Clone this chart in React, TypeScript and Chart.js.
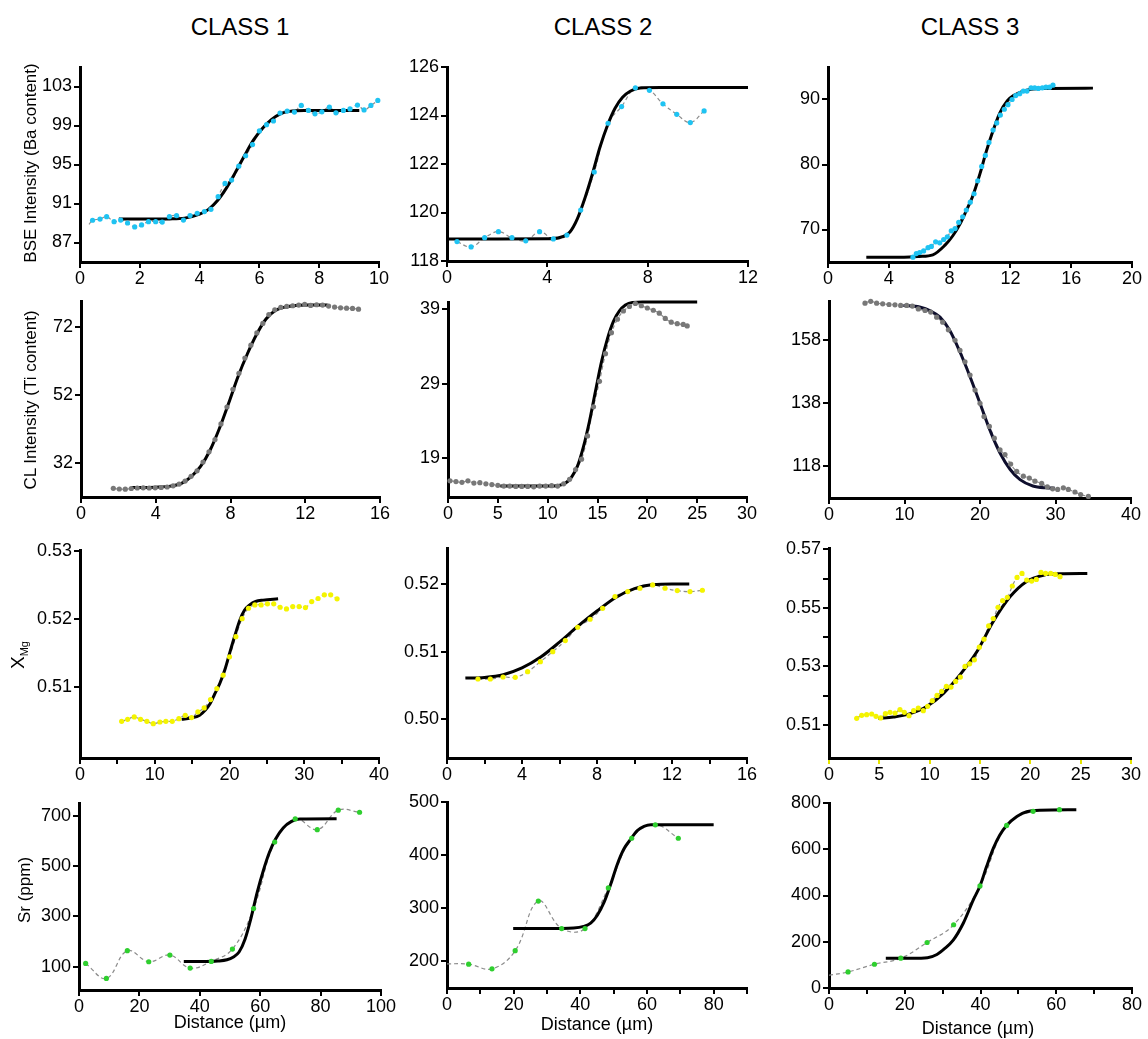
import React, { useEffect, useRef } from 'react';
import { Chart, registerables } from 'chart.js';
Chart.register(...registerables);

const FONT = '"Liberation Sans", Arial, Helvetica, sans-serif';

// ---------------- Class titles & axis titles ----------------
const classTitles = ['CLASS 1', 'CLASS 2', 'CLASS 3'];
const rowTitles = ['BSE Intensity (Ba content)', 'CL Intensity (Ti content)', 'X', 'Sr (ppm)'];
const xTitle = 'Distance (µm)';

// ---------------- Row 1: BSE intensity ----------------
const c1BseX = [0.42,0.67,0.89,1.14,1.36,1.59,1.83,2.06,2.29,2.53,2.75,2.99,3.23,3.46,3.68,3.92,4.16,4.38,4.62,4.85,5.07,5.31,5.54,5.77,6.0,6.24,6.47,6.69,6.93,7.17,7.40,7.64,7.86,8.09,8.34,8.56,8.81,9.03,9.28,9.5,9.73,9.96];
const c1BseY = [89.28,89.4,89.65,89.14,89.3,89.0,88.6,88.8,89.14,89.14,89.1,89.65,89.76,89.3,89.76,90.0,90.17,90.4,91.7,93.06,93.4,94.83,95.9,97.04,98.44,99.08,99.46,100.28,100.48,100.38,101.06,100.55,100.2,100.4,100.9,100.3,100.55,100.7,101.1,100.6,101.06,101.57];
const c1BseLead = [0.3, 88.85];
const c1BseFitX = [1.3,2,3,3.5,4.0,4.3,4.6,4.9,5.2,5.5,5.8,6.1,6.4,6.7,7.0,7.5,8.5,9.34];
const c1BseFitY = [89.4,89.4,89.42,89.5,89.9,90.4,91.3,92.6,94.2,95.9,97.5,98.7,99.6,100.2,100.45,100.55,100.55,100.55];
const c1BseXTicks = [0,2,4,6,8,10];
const c1BseXLabels = ['0','2','4','6','8','10'];
const c1BseYTicks = [87,91,95,99,103];
const c1BseYLabels = ['87','91','95','99','103'];

const c2BseX = [0.40,0.96,1.50,2.05,2.59,3.14,3.69,4.24,4.78,5.33,5.87,6.42,6.96,7.51,8.07,8.61,9.16,9.70,10.25];
const c2BseY = [118.8,118.58,118.96,119.21,118.96,118.83,119.21,118.91,119.07,120.1,121.67,123.68,124.37,125.14,125.04,124.48,124.05,123.71,124.19];
const c2BseFitX = [0,2,4,4.5,4.9,5.2,5.5,5.8,6.1,6.4,6.7,7.0,7.3,7.7,8.5,12];
const c2BseFitY = [118.91,118.91,118.92,118.97,119.2,119.75,120.6,121.6,122.7,123.6,124.3,124.75,125.0,125.13,125.15,125.15];
const c2BseXTicks = [0,4,8,12];
const c2BseXLabels = ['0','4','8','12'];
const c2BseYTicks = [118,120,122,124,126];
const c2BseYLabels = ['118','120','122','124','126'];

const c3BseX = [5.59,5.81,6.03,6.29,6.58,6.80,7.08,7.35,7.61,7.85,8.11,8.36,8.60,8.86,9.10,9.36,9.61,9.85,10.11,10.35,10.59,10.86,11.10,11.34,11.60,11.84,12.11,12.35,12.61,12.85,13.09,13.36,13.60,13.84,14.10,14.34,14.58,14.80];
const c3BseY = [65.74,66.3,66.46,66.7,67.2,67.4,68.1,67.95,68.46,68.87,69.8,70.15,71.1,71.95,73.0,74.2,75.5,77.5,79.7,81.4,83.4,85.3,86.4,87.6,88.5,89.2,90.0,90.6,90.9,91.3,91.3,91.8,91.8,91.7,91.8,91.9,91.9,92.2];
const c3BseFitX = [2.52,5,6,6.9,7.7,8.2,8.7,9.1,9.5,10.0,10.4,10.8,11.3,11.8,12.2,13.0,14.0,17.43];
const c3BseFitY = [65.75,65.75,65.85,66.1,67.6,69.0,70.9,72.9,75.0,78.6,81.9,84.8,87.9,89.8,90.6,91.4,91.7,91.75];
const c3BseXTicks = [0,4,8,12,16,20];
const c3BseXLabels = ['0','4','8','12','16','20'];
const c3BseYTicks = [70,80,90];
const c3BseYLabels = ['70','80','90'];

// ---------------- Row 2: CL intensity ----------------
const c1ClX = [1.73,2.05,2.37,2.69,3.01,3.33,3.65,3.97,4.29,4.61,4.93,5.25,5.57,5.89,6.21,6.53,6.85,7.17,7.49,7.81,8.13,8.45,8.77,9.09,9.41,9.73,10.05,10.37,10.69,11.01,11.33,11.65,11.97,12.29,12.61,12.93,13.25,13.57,13.89,14.21,14.53,14.85];
const c1ClY = [24.45,24.25,24.2,24.4,24.55,24.6,24.55,24.6,24.7,24.85,25.2,25.7,26.6,28.0,29.6,32.2,35.2,38.8,43.4,48.4,53.6,58.3,62.8,66.6,70.2,73.0,75.6,77.0,77.7,78.0,78.2,78.4,78.6,78.3,78.5,78.4,78.1,77.8,77.6,77.5,77.4,77.2];
const c1ClFitX = [2.7,4.0,4.8,5.4,5.9,6.4,6.9,7.4,7.9,8.4,8.9,9.4,9.9,10.4,10.9,11.5,12.2,13.2];
const c1ClFitY = [24.7,24.8,25.1,26.0,27.9,30.9,35.6,42.0,49.5,57.3,64.0,69.8,74.3,76.8,77.8,78.3,78.4,78.4];
const c1ClXTicks = [0,4,8,12,16];
const c1ClXLabels = ['0','4','8','12','16'];
const c1ClYTicks = [32,52,72];
const c1ClYLabels = ['32','52','72'];

const c2ClX = [0.2,0.8,1.4,2.0,2.6,3.2,3.8,4.4,5.0,5.6,6.2,6.8,7.4,8.0,8.6,9.2,9.8,10.4,11.0,11.6,12.2,12.8,13.4,14.0,14.6,15.2,15.8,16.4,17.0,17.6,18.2,18.8,19.4,20.0,20.6,21.2,21.8,22.4,23.0,23.6,24.0];
const c2ClY = [16.0,15.9,15.8,16.0,15.7,15.75,15.6,15.5,15.4,15.3,15.3,15.25,15.25,15.25,15.2,15.3,15.3,15.35,15.3,15.6,16.2,17.5,18.9,22.0,25.9,29.3,33.0,35.8,37.6,38.7,39.3,39.7,39.4,39.1,38.8,38.4,37.7,37.2,37.0,36.9,36.7];
const c2ClFitX = [5.25,8,10,11,11.8,12.4,13.0,13.6,14.2,14.8,15.4,16.0,16.6,17.2,17.8,18.5,19.5,25];
const c2ClFitY = [15.3,15.3,15.3,15.35,15.7,16.5,18.0,20.6,24.0,28.0,31.9,35.0,37.3,38.7,39.5,39.85,39.9,39.9];
const c2ClXTicks = [0,5,10,15,20,25,30];
const c2ClXLabels = ['0','5','10','15','20','25','30'];
const c2ClYTicks = [19,29,39];
const c2ClYLabels = ['19','29','39'];

const c3ClX = [4.77,5.52,6.31,7.11,7.95,8.74,9.49,10.29,11.04,11.83,12.72,13.47,14.26,15.06,15.81,16.69,17.35,18.01,18.68,19.34,20.0,20.53,21.24,21.9,22.65,23.31,24.06,24.86,25.74,26.53,27.28,28.17,28.92,29.62,30.29,31.04,31.7,32.58,33.33,34.35];
const c3ClY = [169.5,170.1,169.5,169.3,169.1,169.0,168.8,168.8,168.6,167.7,167.2,166.7,165.1,163.5,161.1,157.8,154.6,151.0,146.8,142.1,137.9,133.7,130.6,126.9,123.2,121.7,118.7,116.4,114.9,114.3,113.3,112.6,111.5,110.9,110.7,111.2,110.7,109.9,109.1,108.5];
const c3ClFitX = [9.85,12,13.5,14.7,16.0,17.35,18.68,20.0,21.3,22.65,24.0,25.3,27.0,28.8,29.93];
const c3ClFitY = [168.8,168.3,167.0,165.1,160.9,154.1,146.3,137.9,129.5,122.2,117.0,113.8,111.8,111.2,111.1];
const c3ClXTicks = [0,10,20,30,40];
const c3ClXLabels = ['0','10','20','30','40'];
const c3ClYTicks = [118,138,158];
const c3ClYLabels = ['118','138','158'];

// ---------------- Row 3: X_Mg ----------------
const c1XmgX = [5.57,6.37,7.26,8.1,8.95,9.8,10.69,11.49,12.34,13.23,14.08,14.92,15.77,16.61,17.46,18.31,19.15,20.0,20.85,21.69,22.54,23.39,24.23,25.08,25.92,26.77,27.62,28.46,29.31,30.16,31.0,31.85,32.69,33.54,34.39];
const c1XmgY = [0.50491,0.50521,0.50556,0.50521,0.50491,0.50457,0.50481,0.50491,0.50491,0.50531,0.5058,0.50546,0.5063,0.50689,0.50812,0.50975,0.51173,0.51444,0.51741,0.52007,0.5216,0.5221,0.5221,0.52225,0.52225,0.52175,0.52151,0.52185,0.52185,0.5217,0.52259,0.52304,0.52358,0.52358,0.52299];
const c1XmgFitX = [13.59,14.8,16.0,17.4,18.0,18.7,19.4,20.0,20.7,21.4,22.0,22.7,23.5,24.5,26.5];
const c1XmgFitY = [0.5052,0.5054,0.5058,0.5075,0.5089,0.5105,0.5126,0.5149,0.5175,0.5199,0.5213,0.5221,0.5226,0.5228,0.523];
const c1XmgXTicks = [0,5,10,15,20,25,30,35,40];
const c1XmgXLabels = ['0','','10','','20','','30','','40'];
const c1XmgYTicks = [0.51,0.52,0.53];
const c1XmgYLabels = ['0.51','0.52','0.53'];

const c2XmgX = [1.65,2.31,2.99,3.64,4.30,4.98,5.64,6.31,6.97,7.63,8.30,8.96,9.64,10.29,10.97,11.63,12.28,12.96,13.62];
const c2XmgY = [0.50596,0.50596,0.50626,0.50621,0.50704,0.50852,0.51,0.51163,0.5136,0.51478,0.5164,0.51813,0.51887,0.51936,0.51985,0.51936,0.51901,0.51887,0.51906];
const c2XmgFitX = [0.98,2.0,3.0,4.0,5.0,6.0,7.0,8.0,9.0,10.0,11.0,12.0,12.92];
const c2XmgFitY = [0.5061,0.5062,0.5066,0.5076,0.5092,0.5114,0.5138,0.516,0.518,0.5193,0.5199,0.52,0.52];
const c2XmgXTicks = [0,2,4,6,8,10,12,14,16];
const c2XmgXLabels = ['0','','4','','8','','12','','16'];
const c2XmgYTicks = [0.50,0.51,0.52];
const c2XmgYLabels = ['0.50','0.51','0.52'];

const c3XmgX = [2.75,3.25,3.74,4.24,4.67,5.13,5.6,6.06,6.56,7.05,7.48,7.95,8.41,8.87,9.37,9.8,10.26,10.73,11.19,11.66,12.12,12.58,13.05,13.51,13.97,14.44,14.93,15.4,15.86,16.32,16.79,17.25,17.72,18.21,18.68,19.17,19.64,20.13,20.6,21.06,21.52,22.02,22.48,22.95];
const c3XmgY = [0.51227,0.5133,0.51352,0.51375,0.51295,0.51239,0.51386,0.51432,0.51409,0.51523,0.51432,0.51318,0.51489,0.5158,0.51489,0.51636,0.5183,0.52011,0.52148,0.52318,0.52295,0.52489,0.52636,0.53,0.53091,0.53227,0.53659,0.53932,0.54386,0.54636,0.55023,0.5525,0.55364,0.5575,0.56045,0.56182,0.55955,0.5592,0.55977,0.56216,0.56182,0.56182,0.56148,0.56068];
const c3XmgFitX = [4.9,6.4,8.0,9.7,11.4,13.0,14.7,16.3,18.0,19.6,21.3,23.0,25.66];
const c3XmgFitY = [0.5122,0.5127,0.5138,0.5163,0.5209,0.5271,0.5351,0.5453,0.5539,0.559,0.5612,0.5617,0.5618];
const c3XmgXTicks = [0,5,10,15,20,25,30];
const c3XmgXLabels = ['0','5','10','15','20','25','30'];
const c3XmgYTicks = [0.51,0.52,0.53,0.54,0.55,0.56,0.57];
const c3XmgYLabels = ['0.51','','0.53','','0.55','','0.57'];

// ---------------- Row 4: Sr (ppm) ----------------
const c1SrX = [2.2,9.06,16.0,23.1,30.1,36.8,43.8,50.8,57.8,64.8,71.6,78.9,85.85,92.9];
const c1SrY = [112.6,52.8,163.1,119.3,145.8,94.0,120.6,169.8,330.6,595,686.7,644.2,721.3,713.3];
const c1SrFitX = [34.7,42,46,49,51,53,55,57,59,61,63,65,67.6,70.4,73.1,85.3];
const c1SrFitY = [120,120,122,127,137,158,210,295,395,480,552,605,651,677,686,687];
const c1SrXTicks = [0,20,40,60,80,100];
const c1SrXLabels = ['0','20','40','60','80','100'];
const c1SrYTicks = [100,300,500,700];
const c1SrYLabels = ['100','300','500','700'];

const c2SrX = [6.5,13.5,20.45,27.4,34.4,41.4,48.4,55.4,62.5,69.4];
const c2SrY = [194.9,186.0,220.2,313.6,261.8,261.8,338.3,431.8,457.0,431.8];
const c2SrLead = [0, 195.5];
const c2SrFitX = [19.85,30,38,41,43.1,45.1,47.1,49.1,51.1,53.1,55.1,57.1,59.1,61.2,80];
const c2SrFitY = [262,262,263,266,272,287,311,345,383,412,430,446,454,457,457];
const c2SrXTicks = [0,10,20,30,40,50,60,70,80,90];
const c2SrXLabels = ['0','','20','','40','','60','','80',''];
const c2SrYTicks = [200,300,400,500];
const c2SrYLabels = ['200','300','400','500'];

const c3SrX = [5.03,12.0,18.96,25.9,32.9,39.86,46.9,53.9,60.85];
const c3SrY = [69.5,102.8,128.8,196.8,273.5,441.3,703.1,763.8,771.1];
const c3SrLead = [0, 55];
const c3SrFitX = [15,22,26,28.5,30.5,32.8,35.45,38.1,39.86,41.6,43.4,45.1,46.9,49.6,52.2,55.7,65.3];
const c3SrFitY = [128.8,128.8,131,145,170,207,280,381,441,525,605,662,703,742,762,769,771];
const c3SrXTicks = [0,10,20,30,40,50,60,70,80];
const c3SrXLabels = ['0','','20','','40','','60','','80'];
const c3SrYTicks = [0,200,400,600,800];
const c3SrYLabels = ['0','200','400','600','800'];

// ---------------- colours ----------------
const BLUE = '#1fc3f2';
const GREY = '#787878';
const YELLOW = '#f4f400';
const GREEN = '#2fcf2f';

type Panel = {
  box: [number, number, number, number]; // L, R, T, B (page px)
  xr: [number, number]; yr: [number, number];
  xt: number[]; xl: string[]; yt: number[]; yl: string[];
  px: number[]; py: number[]; fx: number[]; fy: number[];
  lead?: number[]; color: string; fitColor?: string; xTickColor?: string;
};

const panels: Panel[] = [
  { box: [80, 379, 67, 262], xr: [0, 10], yr: [85, 105], xt: c1BseXTicks, xl: c1BseXLabels, yt: c1BseYTicks, yl: c1BseYLabels, px: c1BseX, py: c1BseY, fx: c1BseFitX, fy: c1BseFitY, lead: c1BseLead, color: BLUE },
  { box: [447, 748, 67, 261], xr: [0, 12], yr: [118, 126], xt: c2BseXTicks, xl: c2BseXLabels, yt: c2BseYTicks, yl: c2BseYLabels, px: c2BseX, py: c2BseY, fx: c2BseFitX, fy: c2BseFitY, color: BLUE },
  { box: [828, 1132, 67, 262], xr: [0, 20], yr: [65, 95], xt: c3BseXTicks, xl: c3BseXLabels, yt: c3BseYTicks, yl: c3BseYLabels, px: c3BseX, py: c3BseY, fx: c3BseFitX, fy: c3BseFitY, color: BLUE },
  { box: [81, 380, 301, 497], xr: [0, 16], yr: [21.9, 79.6], xt: c1ClXTicks, xl: c1ClXLabels, yt: c1ClYTicks, yl: c1ClYLabels, px: c1ClX, py: c1ClY, fx: c1ClFitX, fy: c1ClFitY, color: GREY },
  { box: [448, 747, 302, 497], xr: [0, 30], yr: [13.84, 39.9], xt: c2ClXTicks, xl: c2ClXLabels, yt: c2ClYTicks, yl: c2ClYLabels, px: c2ClX, py: c2ClY, fx: c2ClFitX, fy: c2ClFitY, color: GREY },
  { box: [829, 1131, 301, 498], xr: [0, 40], yr: [108, 170.2], xt: c3ClXTicks, xl: c3ClXLabels, yt: c3ClYTicks, yl: c3ClYLabels, px: c3ClX, py: c3ClY, fx: c3ClFitX, fy: c3ClFitY, color: GREY, fitColor: '#0e0e2c' },
  { box: [80, 379, 550, 758], xr: [0, 40], yr: [0.4995, 0.5302], xt: c1XmgXTicks, xl: c1XmgXLabels, yt: c1XmgYTicks, yl: c1XmgYLabels, px: c1XmgX, py: c1XmgY, fx: c1XmgFitX, fy: c1XmgFitY, color: YELLOW },
  { box: [447, 747, 548, 758], xr: [0, 16], yr: [0.4943, 0.5253], xt: c2XmgXTicks, xl: c2XmgXLabels, yt: c2XmgYTicks, yl: c2XmgYLabels, px: c2XmgX, py: c2XmgY, fx: c2XmgFitX, fy: c2XmgFitY, color: YELLOW },
  { box: [829, 1131, 548, 758], xr: [0, 30], yr: [0.4987, 0.5705], xt: c3XmgXTicks, xl: c3XmgXLabels, yt: c3XmgYTicks, yl: c3XmgYLabels, px: c3XmgX, py: c3XmgY, fx: c3XmgFitX, fy: c3XmgFitY, color: YELLOW, xTickColor: '#e6e600' },
  { box: [79, 381, 803, 990], xr: [0, 100], yr: [7, 750], xt: c1SrXTicks, xl: c1SrXLabels, yt: c1SrYTicks, yl: c1SrYLabels, px: c1SrX, py: c1SrY, fx: c1SrFitX, fy: c1SrFitY, color: GREEN },
  { box: [447, 747, 802, 988], xr: [0, 90], yr: [150, 500], xt: c2SrXTicks, xl: c2SrXLabels, yt: c2SrYTicks, yl: c2SrYLabels, px: c2SrX, py: c2SrY, fx: c2SrFitX, fy: c2SrFitY, lead: c2SrLead, color: GREEN },
  { box: [829, 1132, 803, 988], xr: [0, 80], yr: [0, 800], xt: c3SrXTicks, xl: c3SrXLabels, yt: c3SrYTicks, yl: c3SrYLabels, px: c3SrX, py: c3SrY, fx: c3SrFitX, fy: c3SrFitY, lead: c3SrLead, color: GREEN },
];

const zip = (xs: number[], ys: number[]) => xs.map((x, i) => ({ x, y: ys[i] }));

const PAD_L = 70, PAD_T = 14, PAD_R = 22, PAD_B = 32;

function PanelChart({ p }: { p: Panel }) {
  const ref = useRef<HTMLCanvasElement>(null);
  const [L, R, T, B] = p.box;
  const W = R - L + PAD_L + PAD_R;
  const H = B - T + PAD_T + PAD_B;
  useEffect(() => {
    const pts = zip(p.px, p.py);
    const linePts = p.lead ? [{ x: p.lead[0], y: p.lead[1] }, ...pts] : pts;
    const tickFont = { family: FONT, size: 18 };
    const chart = new Chart(ref.current as HTMLCanvasElement, {
      type: 'line',
      data: {
        datasets: [
          { data: pts, showLine: false, pointRadius: 2.6, pointBorderWidth: 0, pointBackgroundColor: p.color, borderColor: p.color, backgroundColor: p.color, clip: false } as any,
          { data: zip(p.fx, p.fy), borderColor: p.fitColor || '#000', borderWidth: 3, pointRadius: 0, cubicInterpolationMode: 'monotone', fill: false, clip: false } as any,
          { data: linePts, borderColor: '#8c8c8c', borderWidth: 1.2, borderDash: [4, 3], pointRadius: 0, tension: 0.4, fill: false, clip: false } as any,
        ],
      },
      options: {
        responsive: false,
        animation: false,
        devicePixelRatio: 1,
        events: [],
        layout: { padding: { left: 0, top: PAD_T, right: PAD_R, bottom: 0 } },
        plugins: { legend: { display: false }, tooltip: { enabled: false } },
        scales: {
          x: {
            type: 'linear', min: p.xr[0], max: p.xr[1],
            afterFit: (s: any) => { s.height = PAD_B; },
            afterBuildTicks: (s: any) => { s.ticks = p.xt.map((v) => ({ value: v })); },
            ticks: { autoSkip: false, maxRotation: 0, minRotation: 0, padding: 0, color: '#000', font: tickFont, callback: (_v: any, i: number) => p.xl[i] },
            grid: { drawOnChartArea: false, drawTicks: true, tickLength: 6, tickWidth: 2, color: p.xTickColor || '#000', lineWidth: 2 },
            border: { display: true, color: '#000', width: 3 },
          },
          y: {
            type: 'linear', min: p.yr[0], max: p.yr[1],
            afterFit: (s: any) => { s.width = PAD_L; },
            afterBuildTicks: (s: any) => { s.ticks = p.yt.map((v) => ({ value: v })); },
            ticks: { autoSkip: false, padding: 2, color: '#000', font: tickFont, callback: (_v: any, i: number) => p.yl[i] },
            grid: { drawOnChartArea: false, drawTicks: true, tickLength: 6, tickWidth: 2, color: '#000', lineWidth: 2 },
            border: { display: true, color: '#000', width: 3 },
          },
        },
      } as any,
    });
    return () => chart.destroy();
  }, [p]);
  return (
    <canvas
      ref={ref}
      width={W}
      height={H}
      style={{ position: 'absolute', left: L - PAD_L, top: T - PAD_T, width: W, height: H }}
    />
  );
}

const titleX = [240, 603, 970];
const rowLabelPos: [number, number][] = [[30, 163], [30, 400], [19, 655], [24, 890]];
const distPos: [number, number][] = [[230, 1022], [597, 1024], [978, 1028]];

export default function App() {
  const txt: React.CSSProperties = { position: 'absolute', fontFamily: FONT, color: '#000', whiteSpace: 'nowrap', lineHeight: 1 };
  return (
    <div style={{ position: 'absolute', left: 0, top: 0, width: 1148, height: 1039, background: '#fff', overflow: 'hidden' }}>
      {panels.map((p, i) => <PanelChart key={i} p={p} />)}
      {classTitles.map((t, i) => (
        <div key={t} style={{ ...txt, left: titleX[i], top: 27, fontSize: 24, transform: 'translate(-50%, -50%)' }}>{t}</div>
      ))}
      {rowTitles.map((t, i) => (
        <div key={i} style={{ ...txt, left: rowLabelPos[i][0], top: rowLabelPos[i][1], fontSize: i === 2 ? 19 : 17, transform: 'translate(-50%, -50%) rotate(-90deg)' }}>
          {i === 2 ? <span>X<sub style={{ fontSize: 11, verticalAlign: '-0.35em' }}>Mg</sub></span> : t}
        </div>
      ))}
      {distPos.map((d, i) => (
        <div key={i} style={{ ...txt, left: d[0], top: d[1], fontSize: 18, transform: 'translate(-50%, -50%)' }}>{xTitle}</div>
      ))}
    </div>
  );
}
